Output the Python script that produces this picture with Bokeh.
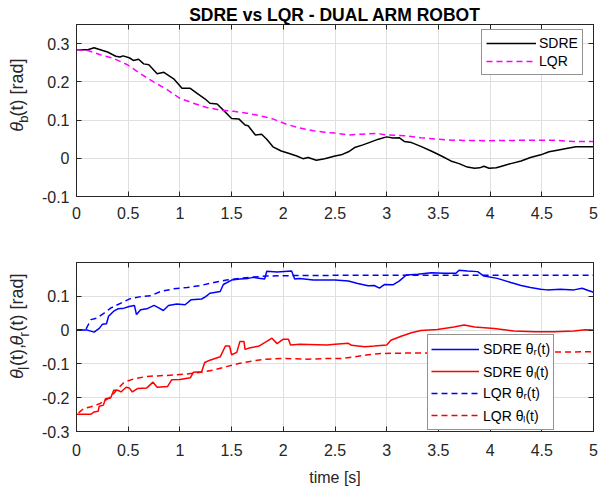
import numpy as np
from bokeh.plotting import figure
from bokeh.models import Range1d, FixedTicker, LinearAxis, Legend, LegendItem
from bokeh.core.properties import value
from bokeh.layouts import column, row
from bokeh.embed import file_html
from bokeh.resources import INLINE

# ---------------- data ----------------
title_text = "SDRE vs LQR - DUAL ARM ROBOT"
x_label = "time [s]"
x_ticks = [0, 0.5, 1, 1.5, 2, 2.5, 3, 3.5, 4, 4.5, 5]
x_tick_labels = ["0", "0.5", "1", "1.5", "2", "2.5", "3", "3.5", "4", "4.5", "5"]
yb_ticks = [-0.1, 0, 0.1, 0.2, 0.3]
yb_tick_labels = ["-0.1", "0", "0.1", "0.2", "0.3"]
ylr_ticks = [-0.3, -0.2, -0.1, 0, 0.1]
ylr_tick_labels = ["-0.3", "-0.2", "-0.1", "0", "0.1"]

t_b_sdre = [0.0, 0.11, 0.17, 0.23, 0.30, 0.38, 0.42, 0.45, 0.51, 0.55, 0.60, 0.65, 0.70, 0.78, 0.845,
            0.94, 1.02, 1.10, 1.18, 1.245, 1.29, 1.36, 1.42, 1.50, 1.57, 1.63, 1.66, 1.73, 1.79, 1.84,
            1.90, 1.98, 2.05, 2.13, 2.19, 2.24, 2.32, 2.40, 2.50, 2.56, 2.63, 2.69, 2.77, 2.83, 2.92,
            3.00, 3.06, 3.12, 3.17, 3.24, 3.33, 3.43, 3.53, 3.62, 3.70, 3.78, 3.85, 3.90, 3.94, 3.99,
            4.06, 4.12, 4.20, 4.30, 4.39, 4.49, 4.57, 4.65, 4.75, 4.83, 4.92, 5.0]
thb_sdre = [0.284, 0.284, 0.289, 0.284, 0.278, 0.267, 0.265, 0.268, 0.263, 0.256, 0.259, 0.247, 0.245,
            0.221, 0.225, 0.208, 0.183, 0.183, 0.167, 0.155, 0.144, 0.142, 0.126, 0.104, 0.103, 0.087,
            0.085, 0.061, 0.063, 0.050, 0.030, 0.019, 0.013, 0.006, -0.001, 0.002, -0.005, -0.001,
            0.006, 0.009, 0.017, 0.028, 0.035, 0.041, 0.050, 0.056, 0.053, 0.054, 0.044, 0.041, 0.031,
            0.019, 0.006, -0.007, -0.014, -0.023, -0.026, -0.025, -0.021, -0.026, -0.025, -0.020,
            -0.014, -0.007, 0.002, 0.009, 0.017, 0.021, 0.026, 0.030, 0.030, 0.030]

t_b_lqr = [0.0, 0.11, 0.23, 0.36, 0.49, 0.62, 0.75, 0.88, 1.00, 1.13, 1.26, 1.39, 1.52, 1.65, 1.78,
           1.90, 2.03, 2.16, 2.29, 2.40, 2.50, 2.63, 2.75, 2.90, 3.00, 3.17, 3.33, 3.49, 3.65, 3.97,
           4.30, 4.62, 4.81, 5.0]
thb_lqr = [0.284, 0.282, 0.271, 0.261, 0.245, 0.221, 0.199, 0.179, 0.157, 0.144, 0.133, 0.126, 0.123,
           0.118, 0.111, 0.103, 0.089, 0.079, 0.072, 0.068, 0.066, 0.061, 0.063, 0.065, 0.061, 0.059,
           0.054, 0.050, 0.047, 0.046, 0.047, 0.047, 0.044, 0.044]

t_r_sdre = [0.0, 0.106, 0.17, 0.22, 0.25, 0.29, 0.31, 0.36, 0.40, 0.46, 0.51, 0.56, 0.58, 0.62, 0.68,
            0.75, 0.80, 0.84, 0.89, 0.97, 1.05, 1.11, 1.21, 1.25, 1.29, 1.39, 1.42, 1.50, 1.58, 1.66,
            1.71, 1.78, 1.82, 1.84, 1.94, 2.08, 2.11, 2.16, 2.29, 2.42, 2.50, 2.63, 2.72, 2.82, 2.88,
            2.93, 2.98, 3.06, 3.12, 3.19, 3.30, 3.43, 3.56, 3.67, 3.70, 3.78, 3.88, 3.94, 4.07, 4.20,
            4.30, 4.39, 4.49, 4.55, 4.68, 4.81, 4.89, 4.95, 5.0]
thr_sdre = [0.0, 0.0, -0.006, 0.005, 0.017, 0.019, 0.041, 0.056, 0.063, 0.065, 0.070, 0.073, 0.046,
            0.060, 0.063, 0.073, 0.065, 0.058, 0.073, 0.077, 0.075, 0.090, 0.092, 0.099, 0.109, 0.114,
            0.135, 0.148, 0.151, 0.153, 0.156, 0.153, 0.151, 0.174, 0.172, 0.175, 0.151, 0.153, 0.148,
            0.148, 0.148, 0.145, 0.138, 0.131, 0.132, 0.124, 0.135, 0.134, 0.145, 0.163, 0.165, 0.170,
            0.168, 0.168, 0.177, 0.175, 0.173, 0.160, 0.153, 0.141, 0.132, 0.126, 0.121, 0.119, 0.121,
            0.119, 0.124, 0.117, 0.112]

t_l_sdre = [0.0, 0.14, 0.17, 0.21, 0.22, 0.26, 0.28, 0.33, 0.36, 0.40, 0.43, 0.48, 0.51, 0.54, 0.59,
            0.68, 0.74, 0.78, 0.88, 0.92, 1.00, 1.10, 1.13, 1.21, 1.24, 1.29, 1.39, 1.44, 1.48, 1.50,
            1.55, 1.58, 1.62, 1.63, 1.68, 1.76, 1.82, 1.89, 1.94, 2.00, 2.05, 2.07, 2.16, 2.42, 2.50,
            2.63, 2.66, 2.79, 2.88, 3.00, 3.04, 3.14, 3.24, 3.33, 3.49, 3.65, 3.75, 3.85, 4.04, 4.23,
            4.43, 4.62, 4.81, 4.92, 5.0]
thl_sdre = [-0.249, -0.249, -0.242, -0.240, -0.225, -0.222, -0.203, -0.201, -0.178, -0.178, -0.183,
            -0.169, -0.171, -0.183, -0.173, -0.171, -0.154, -0.169, -0.167, -0.147, -0.146, -0.141,
            -0.125, -0.123, -0.096, -0.089, -0.079, -0.047, -0.047, -0.073, -0.066, -0.034, -0.034,
            -0.057, -0.052, -0.048, -0.037, -0.024, -0.040, -0.027, -0.027, -0.044, -0.042, -0.044,
            -0.042, -0.039, -0.045, -0.049, -0.047, -0.044, -0.030, -0.018, -0.008, -0.001, 0.002,
            0.009, 0.015, 0.009, 0.005, -0.003, -0.005, -0.005, -0.003, 0.001, 0.0]

t_r_lqr = [0.0, 0.09, 0.14, 0.20, 0.27, 0.33, 0.43, 0.52, 0.62, 0.72, 0.81, 0.94, 1.07, 1.20, 1.33,
           1.45, 1.58, 1.71, 1.84, 2.00, 2.50, 3.00, 4.00, 5.0]
thr_lqr = [0.0, 0.002, 0.031, 0.036, 0.051, 0.065, 0.080, 0.093, 0.099, 0.102, 0.114, 0.122, 0.126,
           0.132, 0.141, 0.148, 0.153, 0.157, 0.160, 0.161, 0.162, 0.162, 0.162, 0.162]

t_l_lqr = [0.02, 0.07, 0.14, 0.23, 0.33, 0.40, 0.46, 0.56, 0.68, 0.81, 0.94, 1.07, 1.20, 1.33, 1.45,
           1.58, 1.71, 1.84, 2.00, 2.23, 2.42, 2.56, 2.69, 2.82, 2.95, 3.20, 3.65, 4.30, 5.0]
thl_lqr = [-0.245, -0.232, -0.227, -0.217, -0.198, -0.173, -0.154, -0.144, -0.137, -0.135, -0.133,
           -0.130, -0.125, -0.118, -0.108, -0.098, -0.091, -0.086, -0.084, -0.086, -0.084, -0.084,
           -0.079, -0.073, -0.069, -0.068, -0.068, -0.066, -0.064]

# ---------------- styling helpers ----------------
FONT = "Liberation Sans"
AX = "#262626"
GRID = "#dfdfdf"
LABW = 38                    # width of the strip holding the rotated y label
W = 598 - LABW
LEFT, RIGHT = 74 - LABW, 5

ADV = {'(': 0.333, ')': 0.333, 't': 0.278, ' ': 0.278, '[': 0.278, ']': 0.278, 'r': 0.333,
       'a': 0.556, 'd': 0.556, 'b': 0.556, 'l': 0.222, ',': 0.278, 'θ': 0.556}


def text_w(s, size):
    return sum(ADV.get(c, 0.5) for c in s) * size


def make_fig(height, top, bottom, yr, yticks, ylabels, xstand, title=None):
    kw = dict(title=title) if title else {}
    p = figure(width=W, height=height, x_range=Range1d(0, 5), y_range=Range1d(*yr),
               output_backend="svg", toolbar_location=None,
               min_border_left=LEFT, min_border_right=RIGHT,
               min_border_top=top, min_border_bottom=bottom, **kw)
    p.background_fill_color = "white"
    p.border_fill_color = "white"
    p.outline_line_color = AX
    p.outline_line_width = 1
    xa, ya = p.below[0], p.left[0]
    for ax in (xa, ya):
        ax.major_tick_in = 5
        ax.major_tick_out = 0
        ax.minor_tick_line_color = None
        ax.axis_line_color = AX
        ax.major_tick_line_color = AX
        ax.major_label_text_font = FONT
        ax.major_label_text_font_size = "16px"
        ax.major_label_text_color = AX
    xa.ticker = FixedTicker(ticks=x_ticks)
    xa.major_label_overrides = dict(zip(x_ticks, x_tick_labels))
    xa.major_label_standoff = xstand
    ya.ticker = FixedTicker(ticks=yticks)
    ya.major_label_overrides = dict(zip(yticks, ylabels))
    ya.major_label_standoff = 7
    # box ticks on top and right (no labels)
    for loc, ticks in (("above", x_ticks), ("right", yticks)):
        a = LinearAxis(ticker=FixedTicker(ticks=ticks), major_tick_in=5, major_tick_out=0,
                       minor_tick_line_color=None, major_label_text_font_size="1px",
                       major_label_text_color=None, major_label_standoff=0,
                       axis_line_color=AX, major_tick_line_color=AX)
        p.add_layout(a, loc)
    p.xgrid[0].ticker = FixedTicker(ticks=x_ticks)
    p.ygrid[0].ticker = FixedTicker(ticks=yticks)
    for g in (p.xgrid[0], p.ygrid[0]):
        g.grid_line_color = GRID
        g.grid_line_width = 1
    return p, xa, ya


def label_strip(height, y_mid_screen, pieces, x_center=16.5):
    """Narrow figure carrying the rotated y-axis label (italic theta, subscripts).
    pieces: (text, font px, style, shift to the right in px, gap after in px)"""
    s = figure(width=LABW, height=height, x_range=Range1d(0, LABW), y_range=Range1d(0, height),
               x_axis_type=None, y_axis_type=None, output_backend="svg", toolbar_location=None,
               min_border=0, min_border_left=0, min_border_right=0, min_border_top=0,
               min_border_bottom=0)
    s.outline_line_color = None
    s.background_fill_color = "white"
    s.border_fill_color = "white"
    total = sum(text_w(t, sz) + g for t, sz, st, dx, g in pieces)
    pos = height - y_mid_screen - total / 2.0
    for t, sz, st, dx, g in pieces:
        s.text(x=[x_center + dx], y=[pos], text=[t], angle=np.pi / 2, text_align="left",
               text_baseline="middle", text_font=value(FONT), text_font_size=value(f"{sz}px"),
               text_font_style=value(st), text_color=AX)
        pos += text_w(t, sz) + g
    return s


# ---------------- top plot ----------------
yb_range = (-0.1, 0.35)
H1, T1, B1 = 240, 24, 44
p1, xa1, ya1 = make_fig(H1, T1, B1, yb_range, yb_ticks, yb_tick_labels, 10, title=title_text)
p1.title.align = "center"
p1.title.text_font = FONT
p1.title.text_font_size = "17.5px"
p1.title.text_font_style = "bold"
p1.title.text_color = "black"
p1.title.standoff = 0
r1 = p1.line(t_b_sdre, thb_sdre, line_color="black", line_width=1.5)
r2 = p1.line(t_b_lqr, thb_lqr, line_color="#ff00ff", line_width=1.5, line_dash="6 4")
leg1 = Legend(items=[LegendItem(label="SDRE", renderers=[r1]),
                     LegendItem(label="LQR", renderers=[r2])],
              location=(405, 121), orientation="vertical",
              label_text_font=FONT, label_text_font_size="14px", label_text_color="black",
              border_line_color=AX, border_line_width=1, background_fill_color="white",
              background_fill_alpha=1.0, padding=4, spacing=0, margin=0,
              glyph_width=50, glyph_height=18, label_height=18, label_standoff=3)
p1.add_layout(leg1)
lab1 = label_strip(H1, T1 + (H1 - T1 - B1) / 2.0,
                   [("θ", 18, "italic", 0, 2.5), ("b", 13, "normal", 6, 1.5),
                    ("(t) [rad]", 18, "normal", 0, 0)])

# ---------------- bottom plot ----------------
ylr_range = (-0.3, 0.2)
H2, T2, B2 = 248, 22, 56
p2, xa2, ya2 = make_fig(H2, T2, B2, ylr_range, ylr_ticks, ylr_tick_labels, 12)
xa2.axis_label = x_label
xa2.axis_label_text_font = FONT
xa2.axis_label_text_font_size = "16px"
xa2.axis_label_text_font_style = "normal"
xa2.axis_label_text_color = AX
xa2.axis_label_standoff = 10
s1 = p2.line(t_r_sdre, thr_sdre, line_color="#0000ff", line_width=1.5)
s2 = p2.line(t_l_sdre, thl_sdre, line_color="#ff0000", line_width=1.5)
s3 = p2.line(t_r_lqr, thr_lqr, line_color="#0000ff", line_width=1.5, line_dash="6 4")
s4 = p2.line(t_l_lqr, thl_lqr, line_color="#ff0000", line_width=1.5, line_dash="6 4")
leg2 = Legend(items=[LegendItem(label="SDRE θᵣ(t)", renderers=[s1]),
                     LegendItem(label="SDRE θₗ(t)", renderers=[s2]),
                     LegendItem(label="LQR θᵣ(t)", renderers=[s3]),
                     LegendItem(label="LQR θₗ(t)", renderers=[s4])],
              location=(351, 1), orientation="vertical",
              label_text_font=FONT, label_text_font_size="14px", label_text_color="black",
              border_line_color=AX, border_line_width=1, background_fill_color="white",
              background_fill_alpha=1.0, padding=3, spacing=0, margin=0,
              glyph_width=48, glyph_height=22, label_height=22, label_standoff=4)
p2.add_layout(leg2)
lab2 = label_strip(H2, T2 + (H2 - T2 - B2) / 2.0,
                   [("θ", 18, "italic", 0, 3), ("l", 14, "normal", 7, 3),
                    ("(t),", 18, "normal", 0, 8), ("θ", 18, "italic", 0, 3),
                    ("r", 14, "normal", 7, 3), ("(t) [rad]", 18, "normal", 0, 0)])

layout = column(row(lab1, p1, spacing=0), row(lab2, p2, spacing=0), spacing=0)
open("out.html", "w").write(file_html(layout, INLINE))
